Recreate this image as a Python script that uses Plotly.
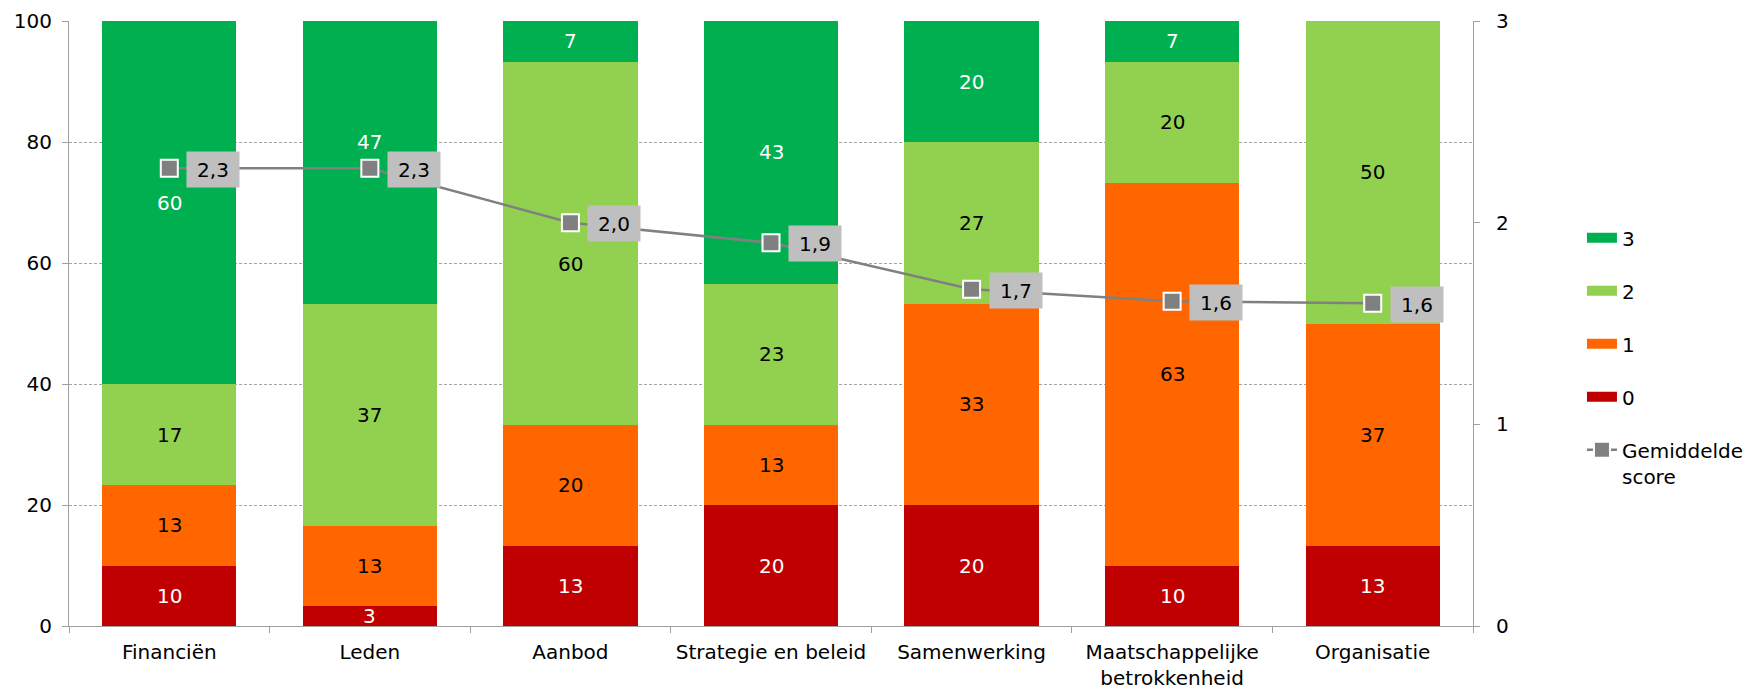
import plotly.graph_objects as go

categories = ["Financiën", "Leden", "Aanbod", "Strategie en beleid", "Samenwerking",
              "Maatschappelijke<br>betrokkenheid", "Organisatie"]
score0 = [10, 3.3, 13.3, 20, 20, 10, 13.3]
score1 = [13.3, 13.3, 20, 13.3, 33.3, 63.3, 36.7]
score2 = [16.7, 36.7, 60, 23.3, 26.7, 20, 50]
score3 = [60, 46.7, 6.7, 43.4, 20, 6.7, 0]
gemiddelde = [2.27, 2.27, 2.0, 1.9, 1.67, 1.61, 1.6]

series = [("0", score0, "#C00000", "white"),
          ("1", score1, "#FF6600", "black"),
          ("2", score2, "#92D050", "black"),
          ("3", score3, "#00B050", "white")]

# manual label nudges (pixels) as in the original
label_shift = {("3", 1): 20, ("2", 2): -21}

FONT = "DejaVu Sans"
fig = go.Figure()

for name, vals, col, _ in series:
    fig.add_trace(go.Bar(x=categories, y=vals, name=name, marker=dict(color=col, line=dict(width=0)),
                         showlegend=False, hoverinfo="y"))

# legend entries (wide swatches)
for name, vals, col, _ in reversed(series):
    fig.add_trace(go.Scatter(x=[None], y=[None], mode="lines", name=name,
                             line=dict(color=col, width=11), legendgroup="g" + name))

fig.add_trace(go.Scatter(x=categories, y=gemiddelde, yaxis="y2", mode="lines+markers",
                         name="Gemiddelde<br>score", legendgroup="avg",
                         line=dict(color="#808080", width=2.5),
                         marker=dict(symbol="square", size=17, color="#808080",
                                     line=dict(color="white", width=2))))

annotations = []
cum = [0.0] * len(categories)
for name, vals, col, tcol in series:
    for i, v in enumerate(vals):
        if v > 0:
            annotations.append(dict(x=categories[i], y=cum[i] + v / 2, xref="x", yref="y",
                                    text=str(round(v)), showarrow=False,
                                    yshift=label_shift.get((name, i), 0),
                                    font=dict(family=FONT, size=20, color=tcol)))
        cum[i] += v

for i, v in enumerate(gemiddelde):
    annotations.append(dict(x=categories[i], y=v, xref="x", yref="y2",
                            text=f"{v:.1f}".replace(".", ","), showarrow=False,
                            xanchor="left", xshift=17, yshift=-1,
                            width=50, height=33, bgcolor="#BFBFBF",
                            font=dict(family=FONT, size=20, color="black")))

fig.update_layout(
    width=1744, height=678,
    margin=dict(l=61, r=279, t=13, b=60),
    barmode="stack", bargap=0.33,
    plot_bgcolor="white", paper_bgcolor="white",
    font=dict(family=FONT, size=20, color="black"),
    annotations=annotations,
    legend=dict(xref="container", x=0.9025, xanchor="left", y=0.674, yanchor="top",
                tracegroupgap=24, valign="top",
                font=dict(family=FONT, size=20, color="black")),
    xaxis=dict(showline=True, linecolor="#A0A0A0", linewidth=1, ticks="outside",
               tickson="boundaries", ticklen=6, tickcolor="#A0A0A0", tickangle=0,
               ticklabelstandoff=8, automargin=False, tickfont=dict(family=FONT, size=20)),
    yaxis=dict(range=[0, 100], dtick=20, showgrid=True, gridcolor="#A6A6A6",
               griddash="3px,2px", gridwidth=1, zeroline=False, showline=True,
               linecolor="#A0A0A0", ticks="outside", ticklen=6, tickcolor="#A0A0A0",
               ticklabelstandoff=6, automargin=False, tickfont=dict(family=FONT, size=20)),
    yaxis2=dict(range=[0, 3], dtick=1, overlaying="y", side="right", showgrid=False,
                zeroline=False, showline=True, linecolor="#A0A0A0", ticks="outside",
                ticklen=6, tickcolor="#A0A0A0", ticklabelstandoff=12, automargin=False,
                tickfont=dict(family=FONT, size=20)),
)

fig.write_html("out.html")
